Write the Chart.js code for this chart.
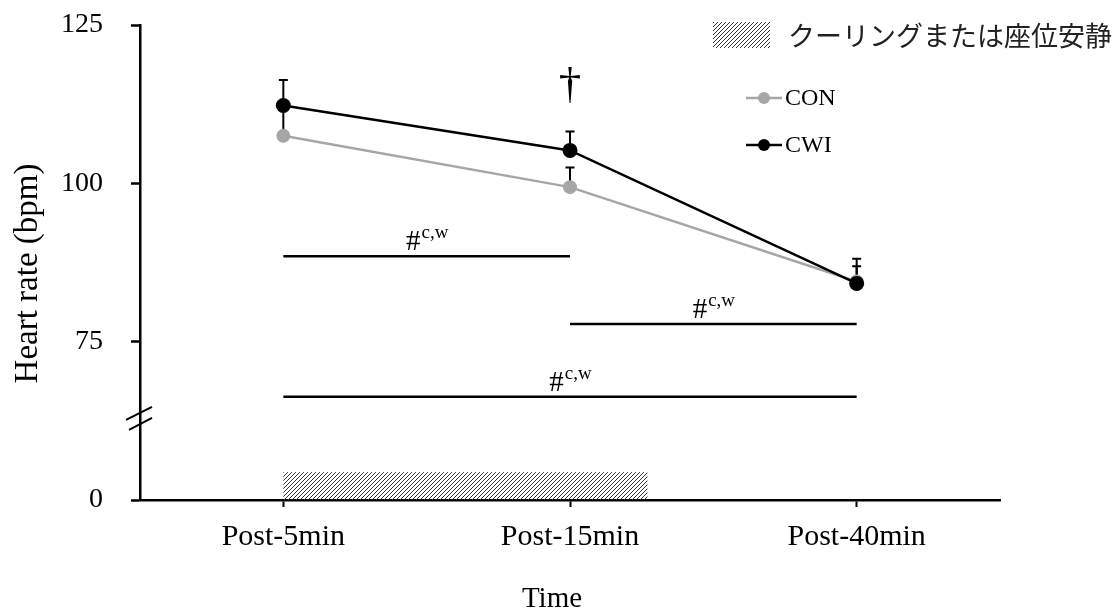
<!DOCTYPE html>
<html>
<head>
<meta charset="utf-8">
<script src="https://cdn.jsdelivr.net/npm/chart.js@4"></script>
<style>
  html, body { margin: 0; padding: 0; background: #fff; }
  #wrap { width: 1117px; height: 611px; }
</style>
</head>
<body>
<div id="wrap"><canvas id="chart"></canvas></div>
<script>
const categories = ['Post-5min', 'Post-15min', 'Post-40min'];
const conMean = [107.5, 99.4, 84.5];
const conSD = [4.5, 3.1, 2.4];
const cwiMean = [112.3, 105.2, 84.2];
const cwiSD = [4.0, 3.0, 3.9];
// axis is broken: the bottom tick shows 0
const yTicks = [50, 75, 100, 125];
const yTickLabels = ['0', '75', '100', '125'];
const axisBreakAt = 62.5;
const xTitle = 'Time';
const yTitle = 'Heart rate (bpm)';
// significance bars: from / to category index, level
const sigFrom = [0, 1, 0];
const sigTo = [1, 2, 2];
const sigLevel = [88.5, 77.8, 66.3];
const sigMark = '#';
const sigSup = 'c,w';
const daggerIndex = 1;
const daggerLevel = 115.3;
// cooling / rest period (category index span, top level)
const coolingSpan = [0, 1.27];
const coolingTop = 54.4;
const coolingLabel = 'クーリングまたは座位安静';

const SERIF = '"Liberation Serif", "Times New Roman", serif';

function makeHatch(ctx) {
  const c = document.createElement('canvas');
  c.width = 4;
  c.height = 4;
  const p = c.getContext('2d');
  p.strokeStyle = '#333';
  p.lineWidth = 1;
  p.beginPath();
  p.moveTo(-1, 5);
  p.lineTo(5, -1);
  p.stroke();
  return ctx.createPattern(c, 'repeat');
}

const extras = {
  id: 'extras',
  beforeDatasetsDraw(chart) {
    const { ctx, scales: { x, y } } = chart;
    ctx.save();
    // cooling period hatch
    const step = x.getPixelForValue(1) - x.getPixelForValue(0);
    const left = x.getPixelForValue(0) + coolingSpan[0] * step;
    const right = x.getPixelForValue(0) + coolingSpan[1] * step;
    ctx.fillStyle = makeHatch(ctx);
    ctx.fillRect(left, y.getPixelForValue(coolingTop), right - left, y.getPixelForValue(50) - y.getPixelForValue(coolingTop));

    // error bars (upper only)
    const drawErr = (means, sds) => {
      ctx.strokeStyle = '#000';
      ctx.lineWidth = 2;
      means.forEach((m, i) => {
        const px = x.getPixelForValue(i);
        const y0 = y.getPixelForValue(m);
        const y1 = y.getPixelForValue(m + sds[i]);
        ctx.beginPath();
        ctx.moveTo(px, y0);
        ctx.lineTo(px, y1);
        ctx.moveTo(px - 4.5, y1);
        ctx.lineTo(px + 4.5, y1);
        ctx.stroke();
      });
    };
    drawErr(conMean, conSD);
    drawErr(cwiMean, cwiSD);
    ctx.restore();
  },
  afterDraw(chart) {
    const { ctx, chartArea, scales: { x, y } } = chart;
    ctx.save();
    ctx.fillStyle = '#000';
    ctx.strokeStyle = '#000';

    // axis titles
    ctx.font = '29px ' + SERIF;
    ctx.textAlign = 'center';
    ctx.textBaseline = 'alphabetic';
    ctx.fillText(xTitle, (chartArea.left + chartArea.right) / 2 - 18, 607);
    ctx.save();
    ctx.translate(28, (chartArea.top + chartArea.bottom) / 2 + 11);
    ctx.rotate(-Math.PI / 2);
    ctx.font = '33px ' + SERIF;
    ctx.textBaseline = 'middle';
    ctx.fillText(yTitle, 0, 0);
    ctx.restore();

    // significance bars
    ctx.lineWidth = 2.5;
    sigLevel.forEach((lv, i) => {
      const x0 = x.getPixelForValue(sigFrom[i]);
      const x1 = x.getPixelForValue(sigTo[i]);
      const py = y.getPixelForValue(lv);
      ctx.beginPath();
      ctx.moveTo(x0, py);
      ctx.lineTo(x1, py);
      ctx.stroke();
      ctx.font = '29px ' + SERIF;
      const wMark = ctx.measureText(sigMark).width;
      ctx.font = '19px ' + SERIF;
      const wSup = ctx.measureText(sigSup).width;
      const cx = (x0 + x1) / 2 - (wMark + wSup) / 2;
      ctx.textAlign = 'left';
      ctx.textBaseline = 'alphabetic';
      ctx.font = '29px ' + SERIF;
      ctx.fillText(sigMark, cx, py - 6);
      ctx.font = '19px ' + SERIF;
      ctx.fillText(sigSup, cx + wMark + 1, py - 18);
    });

    // dagger
    ctx.font = '45px ' + SERIF;
    ctx.textAlign = 'center';
    ctx.textBaseline = 'middle';
    ctx.fillText('†', x.getPixelForValue(daggerIndex), y.getPixelForValue(daggerLevel));

    // axis break
    const bx = y.left + y.width;
    const by = y.getPixelForValue(axisBreakAt);
    ctx.lineWidth = 2;
    ctx.beginPath();
    ctx.moveTo(bx - 14, by - 1);
    ctx.lineTo(bx + 12, by - 14);
    ctx.moveTo(bx - 11, by + 9);
    ctx.lineTo(bx + 12, by - 3);
    ctx.stroke();

    // legend: hatch
    ctx.fillStyle = makeHatch(ctx);
    ctx.fillRect(713, 22, 57, 26);
    ctx.fillStyle = '#222';
    ctx.font = '27px "Noto Sans CJK JP", sans-serif';
    ctx.textAlign = 'left';
    ctx.textBaseline = 'middle';
    ctx.fillText(coolingLabel, 788, 36);

    // legend: series
    [0, 1].forEach((i) => {
      const ds = chart.data.datasets[i];
      const ly = 98 + i * 47;
      ctx.strokeStyle = ds.borderColor;
      ctx.lineWidth = 2.5;
      ctx.beginPath();
      ctx.moveTo(746, ly);
      ctx.lineTo(782, ly);
      ctx.stroke();
      ctx.fillStyle = ds.backgroundColor;
      ctx.beginPath();
      ctx.arc(764, ly, 6, 0, Math.PI * 2);
      ctx.fill();
      ctx.fillStyle = '#000';
      ctx.font = '24px ' + SERIF;
      ctx.fillText(ds.label, 785, ly + 1);
    });
    ctx.restore();
  },
};

new Chart(document.getElementById('chart'), {
  type: 'line',
  data: {
    labels: categories,
    datasets: [
      {
        label: 'CON',
        data: conMean,
        order: 1,
        borderColor: '#a6a6a6',
        backgroundColor: '#a6a6a6',
        borderWidth: 2.5,
        pointRadius: 7,
        pointBorderWidth: 0,
        pointHoverRadius: 7,
        tension: 0,
      },
      {
        label: 'CWI',
        data: cwiMean,
        order: 0,
        borderColor: '#000000',
        backgroundColor: '#000000',
        borderWidth: 2.5,
        pointRadius: 7.5,
        pointBorderWidth: 0,
        pointHoverRadius: 7.5,
        tension: 0,
      },
    ],
  },
  options: {
    responsive: true,
    maintainAspectRatio: false,
    animation: false,
    layout: {
      padding: { top: 25, right: 117, left: 0, bottom: 0 },
    },
    scales: {
      x: {
        offset: true,
        afterFit: (scale) => {
          scale.height = 111;
          scale.paddingLeft = 0;
          scale.paddingRight = 0;
        },
        grid: {
          offset: false,
          drawOnChartArea: false,
          tickLength: 7,
          tickColor: '#000',
          tickWidth: 2,
        },
        border: { color: '#000', width: 2.5 },
        ticks: {
          color: '#000',
          padding: 12,
          font: { size: 30, family: SERIF },
        },
      },
      y: {
        min: 50,
        max: 125,
        afterFit: (scale) => {
          scale.width = 140;
          scale.paddingTop = 0;
          scale.paddingBottom = 0;
        },
        afterBuildTicks: (scale) => {
          scale.ticks = yTicks.map((v) => ({ value: v }));
        },
        grid: {
          drawOnChartArea: false,
          tickLength: 9,
          tickColor: '#000',
          tickWidth: 2.5,
        },
        border: { color: '#000', width: 2.5 },
        ticks: {
          color: '#000',
          padding: 28,
          font: { size: 28, family: SERIF },
          callback: (val) => yTickLabels[yTicks.indexOf(val)],
        },
      },
    },
    plugins: {
      legend: { display: false },
      tooltip: { enabled: false },
    },
  },
  plugins: [extras],
});
</script>
</body>
</html>
